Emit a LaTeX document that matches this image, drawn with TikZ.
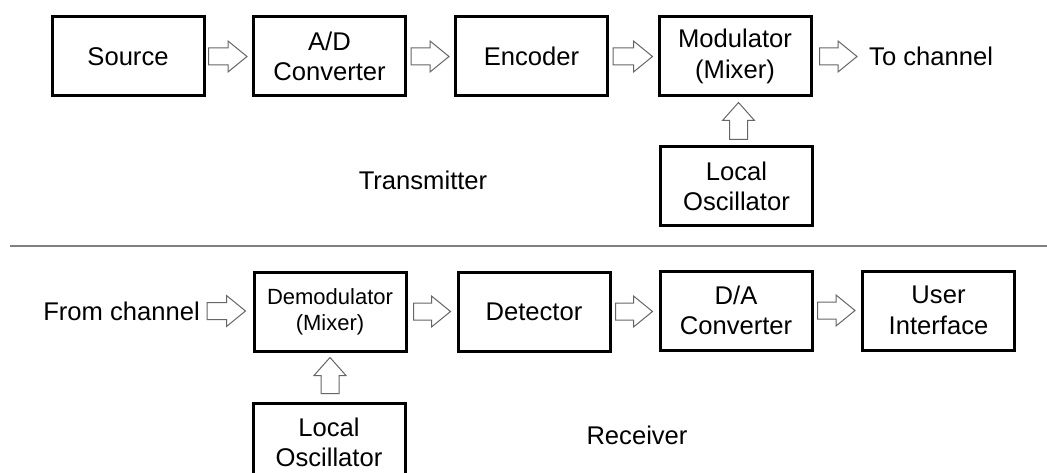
\documentclass[tikz,border=0pt]{standalone}
\usepackage{fontspec}
\setmainfont{Liberation Sans}
\usetikzlibrary{calc}

% Hollow block arrow pointing right, from point #1 to tip #2
\newcommand{\rightblock}[2]{%
  \draw[blockline] let \p1=#1, \p2=#2 in
    (\x1,\y1+8.5pt) -- (\x2-19pt,\y1+8.5pt) -- (\x2-19pt,\y1+15.5pt) -- (\x2,\y1)
    -- (\x2-19pt,\y1-15.5pt) -- (\x2-19pt,\y1-8.5pt) -- (\x1,\y1-8.5pt) -- cycle;}
% Hollow block arrow pointing up, from point #1 to tip #2
\newcommand{\upblock}[2]{%
  \draw[blockline] let \p1=#1, \p2=#2 in
    (\x1-9pt,\y1) -- (\x1-9pt,\y2-18pt) -- (\x1-16pt,\y2-18pt) -- (\x1,\y2)
    -- (\x1+16pt,\y2-18pt) -- (\x1+9pt,\y2-18pt) -- (\x1+9pt,\y1) -- cycle;}

\begin{document}
\begin{tikzpicture}[x=1pt,y=-1pt,
  stage/.style={draw=black, line width=3pt, minimum width=152pt, minimum height=79pt,
    inner sep=0pt, align=center, font=\fontsize{25.6}{30.5}\selectfont},
  small/.style={font=\fontsize{22}{26}\selectfont},
  caption/.style={inner sep=0pt, font=\fontsize{25.6}{30.5}\selectfont},
  blockline/.style={draw=black!60, line width=1pt, fill=white, line join=miter}]
\clip (0,0) rectangle (1047,473);
\fill[white] (0,0) rectangle (1047,473);

% Transmitter chain
\node[stage] (src) at (128,56.5) {Source};
\node[stage] (adc) at (329.5,56.5) {A/D\\Converter};
\node[stage] (enc) at (531.5,56.5) {Encoder};
\node[stage] (mod) at (735,56.5) {Modulator\\(Mixer)};
\node[stage] (lot) at (736.5,186.5) {Local\\Oscillator};
\node[caption, anchor=west] (tochan) at (869,56) {To channel};
\node[caption] (tx) at (423,180) {Transmitter};

\rightblock{($(src.east)+(3,0)$)}{($(adc.west)+(-5,0)$)}
\rightblock{($(adc.east)+(4,0)$)}{($(enc.west)+(-5,0)$)}
\rightblock{($(enc.east)+(4,0)$)}{($(mod.west)+(-5,0)$)}
\rightblock{($(mod.east)+(7,0)$)}{($(tochan.west)+(-12,0)$)}
\upblock{($(lot.north)+(2,-6)$)}{($(mod.south)+(3.5,5)$)}

% Separator
\draw[black!50, line width=1.5pt] (10,246) coordinate (sepl) -- (1047,246) coordinate (sepr);

% Receiver chain
\node[caption, anchor=east] (fromchan) at (200,311) {From channel};
\node[stage, small] (dem) at (330,311.5) {Demodulator\\(Mixer)};
\node[stage] (det) at (534,311.5) {Detector};
\node[stage] (dac) at (736,310.5) {D/A\\Converter};
\node[stage] (ui) at (938.5,310.5) {User\\Interface};
\node[stage] (lor) at (329,442.5) {Local\\Oscillator};
\node[caption] (rx) at (637,435) {Receiver};

\rightblock{($(fromchan.east)+(7,0)$)}{($(dem.west)+(-7,0)$)}
\rightblock{($(dem.east)+(6,0)$)}{($(det.west)+(-6,0)$)}
\rightblock{($(det.east)+(4,0)$)}{($(dac.west)+(-6,0)$)}
\rightblock{($(dac.east)+(4,0)$)}{($(ui.west)+(-6,0)$)}
\upblock{($(lor.north)+(1,-8)$)}{($(dem.south)+(0,5)$)}
\end{tikzpicture}
\end{document}
